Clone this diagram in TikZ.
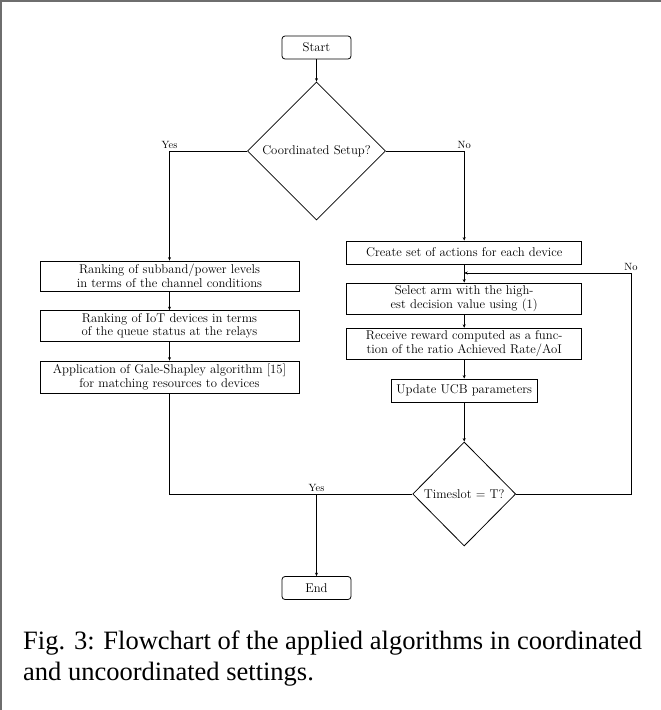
\documentclass[tikz,border=0pt]{standalone}
\usepackage{fontspec}
\newfontfamily\capfont{Liberation Serif}
\usetikzlibrary{shapes.geometric,arrows.meta}
\definecolor{framegray}{RGB}{110,110,110}
\tikzset{
  base/.style={draw, line width=0.8pt, inner sep=0pt, align=center, font=\fontsize{12.7}{13.5}\selectfont},
  boxnode/.style={base},
  termnode/.style={base, rounded corners=3pt},
  decnode/.style={base, diamond, aspect=1},
  conn/.style={line width=0.8pt},
  arr/.style={conn, -{Stealth[length=3.5pt,width=3pt]}},
  lbl/.style={font=\fontsize{10.5}{12}\selectfont, inner sep=1.5pt},
  captext/.style={anchor=base west, inner sep=0pt, font=\capfont\fontsize{26.5}{31}\selectfont}
}
\begin{document}
\begin{tikzpicture}[x=1pt,y=-1pt]
\useasboundingbox (0,0) rectangle (661,710);
% frame (top and left edges)
\draw[framegray, line width=2pt] (1,710) -- (1,1) -- (661,1);

% nodes
\node[termnode, minimum width=69pt, minimum height=23pt] (start) at (316.5,47.5) {Start};
\node[decnode, minimum width=138pt, minimum height=138pt] (d1) at (316.5,151) {Coordinated Setup?};

\node[boxnode, minimum width=259pt, minimum height=30pt] (b1) at (169.5,276) {Ranking of subband/power levels\\in terms of the channel conditions};
\node[boxnode, minimum width=259pt, minimum height=31pt] (b2) at (169.5,326) {Ranking of IoT devices in terms\\of the queue status at the relays};
\node[boxnode, minimum width=259pt, minimum height=32pt] (b3) at (169.5,377) {Application of Gale-Shapley algorithm [15]\\for matching resources to devices};

\node[boxnode, minimum width=235pt, minimum height=23pt] (create) at (464.2,252.5) {Create set of actions for each device};
\node[boxnode, minimum width=235pt, minimum height=31pt] (select) at (464.2,298.5) {Select arm with the high-\\est decision value using (1)};
\node[boxnode, minimum width=235pt, minimum height=31pt] (receive) at (464.2,343.7) {Receive reward computed as a func-\\tion of the ratio Achieved Rate/AoI};
\node[boxnode, minimum width=146pt, minimum height=23pt] (update) at (464.2,390.5) {Update UCB parameters};

\node[decnode, minimum width=103pt, minimum height=104pt] (d2) at (464.2,494) {Timeslot = T?};
\node[termnode, minimum width=69pt, minimum height=23pt] (end) at (316.5,588) {End};

\coordinate (lc) at (631,494);
\coordinate (lt) at (631,273);
\coordinate (lj) at (464.2,273);

% connectors
\draw[arr] (start) -- (d1);
\draw[arr] (d1.west) -| (b1.north) node[lbl, pos=0.5, above] {Yes};
\draw[arr] (d1.east) -| (create.north) node[lbl, pos=0.5, above] {No};
\draw[arr] (b1) -- (b2);
\draw[arr] (b2) -- (b3);
\draw[arr] (create) -- (select);
\draw[arr] (select) -- (receive);
\draw[arr] (receive) -- (update);
\draw[arr] (update) -- (d2);
\draw[conn] (b3.south) |- (d2.west);
\draw[arr] (d2.west) -| (end.north) node[lbl, pos=0.5, above] {Yes};
\draw[arr] (d2.east) -- (lc) -- (lt) node[lbl, above] {No} -- (lj);

% caption
\node[captext] (cap1) at (23,649) {Fig. 3: Flowchart of the applied algorithms in coordinated};
\node[captext] (cap2) at (23,680) {and uncoordinated settings.};
\end{tikzpicture}
\end{document}
